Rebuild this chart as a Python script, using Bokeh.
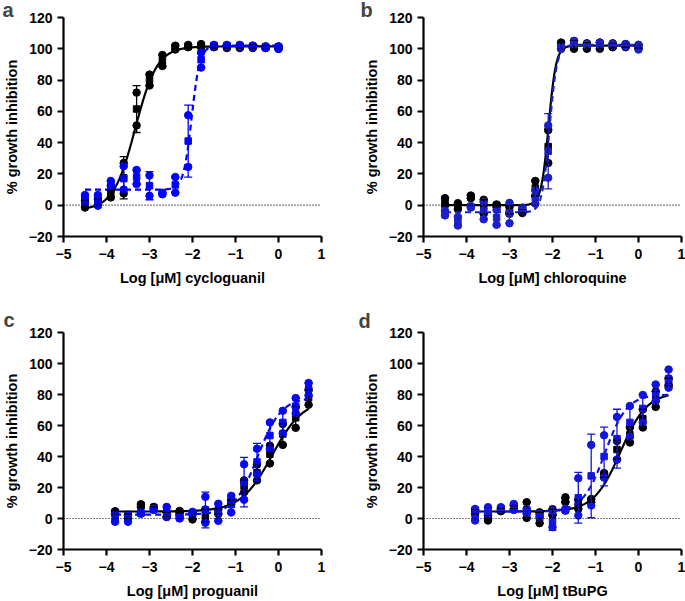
import numpy as np
from bokeh.plotting import figure
from bokeh.layouts import gridplot
from bokeh.models import Range1d, FixedTicker, Whisker, TeeHead, ColumnDataSource, Span
from bokeh.embed import file_html
from bokeh.resources import INLINE

# ---------------- data ----------------
DOSES_AB = [-4.5, -4.2, -3.9, -3.6, -3.3, -3.0, -2.7, -2.4, -2.1, -1.8, -1.5, -1.2, -0.9, -0.6, -0.3, 0.0]
DOSES_CD = [-3.8, -3.5, -3.2, -2.9, -2.6, -2.3, -2.0, -1.7, -1.4, -1.1, -0.8, -0.5, -0.2, 0.1, 0.4, 0.7]

# replicate values per dose: (low, middle, high)
A_BLACK = [(-1.5, 1, 3), (0, 2, 4), (5, 7, 9.5), (7.5, 17.5, 27), (51, 61.5, 72), (76.5, 80, 83.5),
           (89, 92.5, 96), (99.5, 101, 102), (101, 101.5, 102.5), (101, 102, 103), (101, 101.5, 102),
           (100.5, 101.5, 102), (100.5, 101.5, 102), (100.5, 101.5, 102), (100.5, 101, 101.5), (100, 101, 101.5)]
A_BLUE = [(1.5, 4, 6.5), (-0.3, 3, 6.5), (12.5, 14, 15.5), (10, 17, 25), (13.5, 18, 22.5), (6, 12.5, 19),
          (7, 7.5, 8), (8, 13, 18), (24.5, 41, 57.5), (88, 93, 97.5), (101.5, 102, 102.5), (101.5, 102, 102.5),
          (101.5, 102, 102.5), (101, 101.5, 102), (100.5, 101, 101.5), (100, 101, 101.5)]
A_BLACK_ERR = [2, 2, 2.5, 13.5, 15, 4, 4, 1.5, 1, 1, 1, 1, 1, 1, 1, 1]
A_BLUE_ERR = [2.5, 3.5, 1.5, 7.5, 4.5, 9, 0.5, 5, 23, 5, 0.5, 0.5, 0.5, 0.5, 0.5, 1]

B_BLACK = [(0, 2.5, 4.5), (-2.5, -0.5, 1.3), (4.5, 5.3, 6.2), (-5.5, -1, 3.5), (-1, 0, 0.5), (-5.5, -3, -1),
           (-5, -4, -3), (6, 11, 15.5), (27, 37.5, 48), (100, 102, 104), (100, 102.5, 105), (100, 102, 103.5),
           (100, 102, 104), (101, 102, 103.5), (101, 102, 103), (100.5, 101.5, 102.5)]
B_BLUE = [(-6.5, -5, -3.5), (-13, -10, -7.5), (-1.5, -1, -0.5), (-9, -3.5, 2), (-12.5, -8, -3), (-11.5, -5, 1.5),
          (-3.5, -2.5, -1.5), (1, 5, 9.5), (17.5, 34.5, 51), (100, 101, 102), (102.5, 103.5, 105), (102, 102.5, 103),
          (102, 103, 104), (102, 102.5, 103), (101.5, 102.5, 103), (99.5, 101, 102.5)]
B_BLACK_ERR = [2.5, 2, 1, 4.5, 1, 2.5, 1, 5, 11, 2, 2.5, 2, 2, 1.5, 1, 1]
B_BLUE_ERR = [1.5, 3, 0.5, 5.5, 5, 6.5, 1, 4, 24, 1, 1, 0.5, 1, 0.5, 0.5, 1.5]

C_BLACK = [(3, 4, 4.7), (0, 1.5, 2.5), (7.5, 8.5, 9.2), (6.5, 7, 7.5), (1, 2.5, 4), (3.5, 4.2, 4.9),
           (-0.6, 1.5, 3.5), (-2, 2, 5.8), (3, 4.5, 6), (9.5, 10.5, 12), (17, 21, 24.6), (24.6, 29.5, 34.7),
           (35.5, 41.5, 47), (47.5, 54.5, 61), (58.5, 65, 72), (73.4, 78, 83)]
C_BLUE = [(-2.1, 0.5, 3.2), (-2.1, 0, 2), (3, 3.5, 3.9), (5.5, 6, 6.4), (1, 4, 7.5), (0, 0.5, 1.5),
          (3, 3.6, 4.3), (-2.8, 5.5, 14), (-1.5, 4, 9.5), (3.9, 9, 14.6), (12.1, 23.5, 35), (28.5, 36.5, 45),
          (45, 53.5, 62), (55, 62, 69.5), (68, 72.5, 77.7), (79.4, 83.5, 87.4)]
C_BLACK_ERR = [1, 1.5, 1, 0.5, 1.5, 0.5, 2, 4, 1.5, 1.5, 4, 5, 5.5, 6.5, 7, 5]
C_BLUE_ERR = [3, 2, 0.5, 0.5, 3.5, 0.5, 0.5, 11.5, 5.5, 5.5, 16, 12, 9, 7.5, 5, 4]

D_BLACK = [(3, 4.3, 5.6), (-1.3, 0.5, 2), (4.7, 5.5, 6.2), (6.2, 7.3, 8.4), (0.4, 5.5, 10.5), (-3, 0.5, 4),
           (2, 4, 6), (10.5, 12, 13.7), (6.2, 9, 12.2), (10.5, 11.5, 12.6), (26.5, 28, 29.3), (38, 44.5, 50),
           (49, 54, 58.7), (58.7, 64.5, 70.4), (72, 77, 82), (86, 88, 90.4)]
D_BLUE = [(-1.3, 2.5, 6.2), (3, 5, 7.3), (6, 6.5, 7.3), (5.5, 7.5, 9.4), (3, 4.5, 6.2), (1, 2, 3),
          (-5.6, -2.3, 5.1), (5, 5.5, 6.2), (1.9, 13.4, 26), (8.4, 27.5, 47.5), (26.5, 40, 53.7), (38, 51.5, 65.5),
          (52.7, 62, 72.6), (61.9, 71, 79.7), (75.8, 81, 86.5), (84.4, 90, 96.1)]
D_BLACK_ERR = [1.5, 1.5, 1, 1, 5, 3.5, 2, 1.5, 3, 1, 1.5, 6, 5, 6, 5, 2.5]
D_BLUE_ERR = [4, 2, 1, 2, 1.5, 1, 5.3, 0.5, 16.4, 27, 19, 19, 10, 9, 5.5, 6]

# four-parameter logistic fits: (bottom, top, logIC50, hill)
A_BLACK_FIT = (-3, 101.5, -3.33, 1.7)
A_BLUE_FIT = (10, 102, -2.02, 4.5)
B_BLACK_FIT = (0, 102, -2.09, 5)
B_BLUE_FIT = (-4.5, 102.5, -2.07, 5)
C_BLACK_FIT = (4.5, 77, -0.15, 1.2)
C_BLUE_FIT = (2.5, 78, -0.48, 1.6)
D_BLACK_FIT = (4.5, 81.5, -0.42, 1.4)
D_BLUE_FIT = (4.5, 80, -0.78, 1.7)

X_TICKS = [-5, -4, -3, -2, -1, 0, 1]
Y_TICKS = [-20, 0, 20, 40, 60, 80, 100, 120]
X_LABELS = ["Log [\u03bcM] cycloguanil", "Log [\u03bcM] chloroquine", "Log [\u03bcM] proguanil", "Log [\u03bcM] tBuPG"]
Y_LABEL = "% growth inhibition"
TAGS = ["a", "b", "c", "d"]

BLACK = "#000000"
BLUES = ["#0000ff", "#1c20c6", "#0808f4", "#1414e0"]
FONT = "Liberation Sans"


def logistic(x, p):
    b, t, c, h = p
    return b + (t - b) / (1.0 + 10 ** ((c - x) * h))


def panel(doses, black, blue, black_err, blue_err, fit_black, fit_blue, xlabel, tag, blue_color,
          width, height, mb_left, mb_right, mb_top, mb_bottom, tag_offset, tag_standoff):
    p = figure(width=width, height=height, x_range=Range1d(-5, 1), y_range=Range1d(-20, 120),
               output_backend="svg", toolbar_location=None,
               min_border_left=mb_left, min_border_right=mb_right,
               min_border_top=mb_top, min_border_bottom=mb_bottom)
    p.outline_line_color = None
    p.grid.visible = False
    p.background_fill_color = "white"
    p.border_fill_color = "white"

    p.title.text = tag
    p.title.text_font = FONT
    p.title.text_font_style = "bold"
    p.title.text_font_size = "20px"
    p.title.align = "left"
    p.title.offset = tag_offset
    p.title.standoff = tag_standoff

    for ax, ticks in ((p.xaxis[0], X_TICKS), (p.yaxis[0], Y_TICKS)):
        ax.ticker = FixedTicker(ticks=ticks)
        ax.major_label_overrides = {t: (str(t).replace("-", "\u2212")) for t in ticks}
        ax.axis_line_width = 2.2
        ax.major_tick_line_width = 2.2
        ax.major_tick_out = 6
        ax.major_tick_in = 0
        ax.minor_tick_out = 0
        ax.minor_tick_in = 0
        ax.major_label_text_font = FONT
        ax.major_label_text_font_style = "bold"
        ax.major_label_text_font_size = "14px"
        ax.major_label_text_color = "black"
        ax.axis_label_text_font = FONT
        ax.axis_label_text_font_style = "bold"
        ax.axis_label_text_font_size = "14.5px"
        ax.axis_label_text_color = "black"
        ax.major_label_standoff = 6
        ax.axis_label_standoff = 8
    p.xaxis[0].axis_label = xlabel
    p.yaxis[0].axis_label = Y_LABEL
    p.yaxis[0].axis_label_standoff = 6
    p.yaxis[0].major_label_standoff = 5

    p.add_layout(Span(location=0, dimension="width", line_color="black", line_width=1.2,
                      line_dash="1 2"))

    x = np.array(doses, dtype=float)
    xs = np.linspace(x.min(), x.max(), 400)

    for vals, err, fit, color, dash in ((black, black_err, fit_black, BLACK, "solid"),
                                        (blue, blue_err, fit_blue, blue_color, "6 4")):
        arr = np.array(vals, dtype=float)
        e = np.array(err, dtype=float)
        mid = arr[:, 1]
        src = ColumnDataSource(dict(x=x, lower=mid - e, upper=mid + e))
        w = Whisker(source=src, base="x", lower="lower", upper="upper", dimension="height",
                    line_color=color, line_width=1.3, level="glyph",
                    upper_head=TeeHead(size=8, line_color=color, line_width=1.3),
                    lower_head=TeeHead(size=8, line_color=color, line_width=1.3))
        p.add_layout(w)
        p.scatter(np.concatenate([x, x]), np.concatenate([arr[:, 0], arr[:, 2]]),
                  marker="circle", size=7.5, color=color)
        p.scatter(x, mid, marker="square", size=6.5, color=color)
        p.line(xs, logistic(xs, fit), line_color=color, line_width=2.2, line_dash=dash)
    return p


pa = panel(DOSES_AB, A_BLACK, A_BLUE, A_BLACK_ERR, A_BLUE_ERR, A_BLACK_FIT, A_BLUE_FIT, X_LABELS[0], TAGS[0],
           BLUES[0], 340, 300, 62, 19, 17, 64, -61, -7)
pb = panel(DOSES_AB, B_BLACK, B_BLUE, B_BLACK_ERR, B_BLUE_ERR, B_BLACK_FIT, B_BLUE_FIT, X_LABELS[1], TAGS[1],
           BLUES[1], 345, 300, 83, 4, 17, 64, -63, -7)
pc = panel(DOSES_CD, C_BLACK, C_BLUE, C_BLACK_ERR, C_BLUE_ERR, C_BLACK_FIT, C_BLUE_FIT, X_LABELS[2], TAGS[2],
           BLUES[2], 340, 301, 62, 19, 32, 52, -60, 3)
pd = panel(DOSES_CD, D_BLACK, D_BLUE, D_BLACK_ERR, D_BLUE_ERR, D_BLACK_FIT, D_BLUE_FIT, X_LABELS[3], TAGS[3],
           BLUES[3], 345, 301, 83, 4, 32, 52, -65, 2)

grid = gridplot([[pa, pb], [pc, pd]], toolbar_location=None)

open("out.html", "w").write(file_html(grid, INLINE))
